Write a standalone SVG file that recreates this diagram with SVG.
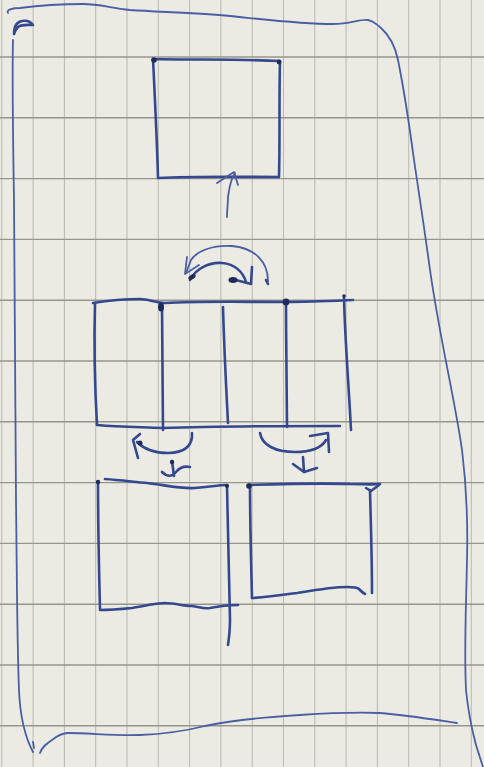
<svg xmlns="http://www.w3.org/2000/svg" width="484" height="767" viewBox="0 0 484 767">
  <style>
    .paper { fill: #ecebe3; }
    .gv { stroke: #b3b2a8; stroke-width: 0.9; fill: none; }
    .gh { stroke: #96958c; stroke-width: 1.4; fill: none; }
    .ink { stroke: #34488f; stroke-width: 2.6; fill: none; stroke-linecap: round; stroke-linejoin: round; }
    .thin { stroke: #4a5fa3; stroke-width: 1.8; fill: none; stroke-linecap: round; stroke-linejoin: round; }
    .blob { fill: #1f2b5c; }
  </style>
  <rect class="paper" x="0" y="0" width="484" height="767"/>
  <g id="grid">
    <path class="gv" d="M1.8,0V767 M33.1,0V767 M64.4,0V767 M95.7,0V767 M127,0V767 M158.3,0V767 M189.6,0V767 M220.9,0V767 M252.2,0V767 M283.5,0V767 M314.8,0V767 M346.1,0V767 M377.4,0V767 M408.7,0V767 M440,0V767 M471.3,0V767"/>
    <path class="gh" d="M0,57H484 M0,117.8H484 M0,178.6H484 M0,239.4H484 M0,300.2H484 M0,361H484 M0,421.8H484 M0,482.6H484 M0,543.4H484 M0,604.2H484 M0,665H484 M0,725.8H484"/>
  </g>
  <g id="frame">
    <path class="thin" d="M8,13 C6,10 12,8 20,8 C35,6 55,4 83,4 C100,4 110,8 130,10 C160,12 200,13 230,16 C260,19 300,24 333,24 C350,24 360,19 368,20 C374,21 376,24 380,27 C388,34 395,45 398,60 C404,90 410,130 414,160 C420,200 426,240 430,270 C440,340 455,400 462,450 C467,490 468,520 467,560 C466,610 464,650 466,690 C468,710 472,730 476,745 L483,767"/>
    <path class="thin" d="M13,40 C12,80 13,140 14,200 C14,300 15,400 16,500 C17,580 17,640 19,690 C20,715 24,735 33,752"/>
    <path class="ink" d="M14,34 C14,27 16,22 22,21 C27,20 31,22 33,25 C28,25 22,24 18,27 C16,29 15,31 14,34 Z" fill="#1f2b5c"/>
    <path class="thin" d="M33,742 L34,748"/>
    <path class="thin" d="M40,753 C42,747 46,744 52,740 C57,736 62,733 68,733 C90,733 115,736 140,735 C165,734 185,731 205,726 C235,720 265,717 300,715 C330,713 355,712 380,713 C405,715 430,719 457,723"/>
  </g>
  <g id="top-box">
    <path class="ink" d="M153,59 C190,60 240,59 280,61 M280,61 C279,100 280,140 279,177 M279,177 C240,177 200,176 158,178 M158,178 C157,140 155,100 153,59"/>
    <circle class="blob" cx="154" cy="60" r="2.8"/>
    <circle class="blob" cx="279" cy="62" r="2.4"/>
  </g>
  <g id="middle-box">
    <path class="ink" d="M93,303 C105,301 125,299 140,299 C150,299 155,303 165,303 C200,301 240,302 285,302 C310,302 330,301 353,300"/>
    <path class="ink" d="M95,303 C94,340 95,390 97,425"/>
    <path class="ink" d="M97,425 C120,427 140,427 163,428 C220,426 280,426 340,426"/>
    <path class="ink" d="M162,305 C162,345 163,390 163,430"/>
    <path class="ink" d="M223,307 C224,345 226,385 228,423"/>
    <path class="ink" d="M286,302 C286,345 287,390 287,427"/>
    <path class="ink" d="M344,298 C345,340 349,390 351,430"/>
    <ellipse class="blob" cx="161" cy="307" rx="3" ry="4.5"/>
    <circle class="blob" cx="286" cy="302" r="3.4"/>
    <circle class="blob" cx="344" cy="296" r="1.8"/>
  </g>
  <g id="bottom-left-box">
    <path class="ink" d="M105,479 C120,480 135,482 147,483 C165,485 180,489 195,488 C210,487 218,485 227,485"/>
    <path class="ink" d="M98,482 C98,520 99,570 100,609"/>
    <path class="ink" d="M100,610 C112,610 122,609 132,608 C145,606 155,603 165,603 C175,603 182,606 192,606 C200,607 203,609 210,608 C220,606 230,605 238,605"/>
    <path class="ink" d="M227,485 C228,530 229,580 230,620 C230,630 229,638 228,645"/>
    <circle class="blob" cx="98" cy="482" r="2.2"/>
    <circle class="blob" cx="227" cy="486" r="2"/>
  </g>
  <g id="bottom-right-box">
    <path class="ink" d="M248,485 C280,484 320,483 350,484 C362,484 372,485 380,484"/>
    <path class="ink" d="M370,490 C371,530 372,560 372,593"/>
    <path class="ink" d="M366,488 L371,491 L379,485"/>
    <path class="ink" d="M250,485 C250,520 251,560 252,598"/>
    <path class="ink" d="M252,598 C268,597 282,595 297,593 C315,590 332,587 347,587 C353,587 357,587 359,589 C361,591 363,593 365,594"/>
    <circle class="blob" cx="249" cy="486" r="2.8"/>
  </g>
  <g id="connectors">
    <path class="thin" d="M227,217 C227,210 228,203 228,197 C229,190 230,184 232,179 L235,173"/>
    <path class="thin" d="M217,183 L234,172 L238,185"/>
    <path class="thin" d="M268,281 C268,262 255,248 232,246 C212,245 197,251 191,260 L186,273"/>
    <path class="thin" d="M187,257 L185,274 L199,265"/>
    <path class="ink" d="M266,280 L268,284" stroke-width="3.4"/>
    <path class="ink" d="M190,280 C196,268 210,262 222,263 C235,264 243,272 246,282"/>
    <path class="ink" d="M232,279 L251,284 L252,267"/>
    <ellipse class="blob" cx="233" cy="280" rx="4.5" ry="3"/>
    <ellipse class="blob" cx="192" cy="277" rx="4" ry="2.2" transform="rotate(-30 192 277)"/>
    <path class="ink" d="M192,433 C193,446 184,453 168,453 C155,453 144,449 137,442"/>
    <path class="ink" d="M140,434 L133,440 L138,458"/>
    <circle class="blob" cx="140" cy="443" r="2.5"/>
    <path class="ink" d="M162,472 C167,477 172,477 176,472 C180,467 185,466 190,467"/>
    <path class="ink" d="M172,461 L174,476"/>
    <circle class="blob" cx="172" cy="462" r="2.2"/>
    <path class="ink" d="M260,433 C262,445 275,452 295,452 C312,452 322,447 326,440"/>
    <path class="ink" d="M310,436 L328,433 L329,452"/>
    <path class="ink" d="M303,457 L304,472"/>
    <path class="ink" d="M293,464 L304,472 L317,468"/>
  </g>
</svg>
